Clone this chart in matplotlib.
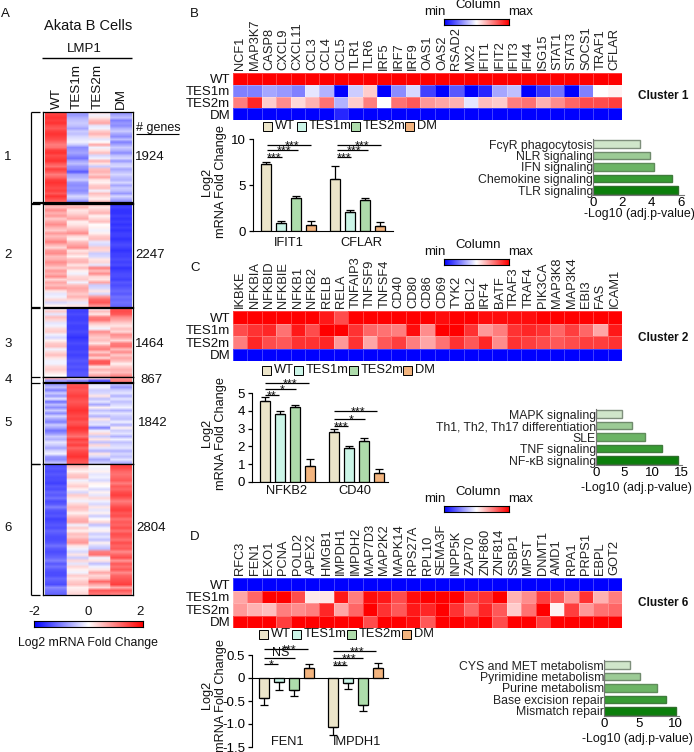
import numpy as np
import matplotlib
matplotlib.use('Agg')
import matplotlib.pyplot as plt
from matplotlib.patches import Rectangle

plt.rcParams['font.family'] = ['Liberation Sans', 'DejaVu Sans']
plt.rcParams['font.size'] = 9

W, H = 694, 752
groups = ['WT', 'TES1m', 'TES2m', 'DM']
bar_colors = ['#ece5c9', '#cbf5e7', '#aedcab', '#f3b47e']
green_colors = ['#d0e6ca', '#9ccb96', '#6db466', '#379b33', '#0b7f0b']
green_edges = ['#7f8f7c', '#6f8a6c', '#5f8c5a', '#3f7c3c', '#2f6f2c']

# ---- panel A (log2 fold change)
c1_wt = [1.4, 1.5, 1.6, 1.5, 1.6, 1.4, 1.3, 1.5, 1.6, 1.5,
         1.4, 1.2, 1.0, 1.1, 1.5, 1.6, 1.4, 1.5, 1.6, 1.3,
         1.1, 1.5, 1.3, 1.0, 1.2, 1.5, 1.6, 1.5, 1.4, 1.5,
         1.3, 1.6, 1.4, 1.2]
c1_tes1 = [-.7, -.8, -.6, -.5, -.4, -.5, -.7, -.4, -.5, -.3,
           -.2, -.1, -.4, -.9, -.8, -.7, -.9, -1.1, -.7, -.5,
           -.8, -.9, -1.3, -.7, -.6, -.4, -.8, -.9, -.8, -.9,
           -.7, -.3, -.5, -1.0]
c1_tes2 = [.3, -.1, .2, .5, .7, -.2, -.1, .4, .6, .3,
           -.2, 0, .7, -.1, .2, .5, -.3, -.1, .6, .2,
           -.4, .5, .6, .4, .7, .2, .1, .4, .5, -.1,
           .5, .3, .1, .5]
c1_dm = [-.9, -.7, -.5, -1.0, -.8, -.9, -.6, -.4, -.7, -.9,
         -.5, -1.0, -.7, -.4, -.6, -.9, -.5, -.3, -.8, -.4,
         -.3, -.7, -.5, -.3, -.5, -.6, -.3, -.7, -.4, -.5,
         -.8, -.3, -.6, -.9]

c2_wt = [.7, .5, .9, .6, .8, .4, .7, .9, .6, .4,
         .8, .5, .7, 1.0, .6, .3, .8, .9, .5, .6,
         .9, .7, .4, .8, .6, .9, .3, .7, .5, .8,
         .2, -.2, -.1, .3, -.3, .1]
c2_tes1 = [.4, .6, .2, .3, .5, .7, .1, .2, .4, .6,
           .9, .3, .1, .5, .7, .9, .2, .4, .1, .5,
           .6, .2, .5, .1, -.1, .3, .4, -.1, .5, .7,
           .6, .4, .6, .3, -.2, .2]
c2_tes2 = [.5, .2, .4, .6, .1, .3, .5, 0, .1, -.1,
           .1, .4, .5, -.2, -.3, .4, .3, -.4, -.3, .2,
           .3, -.2, 1.0, .5, .9, .3, .2, .7, -.4, -.3,
           .2, -.3, .8, 1.2, 1.3, .9]
c2_dm = [-1.6, -1.5, -1.6, -1.6, -1.5, -1.6, -1.5, -1.6, -1.5, -1.6,
         -1.5, -1.5, -1.6, -1.5, -1.4, -1.5, -1.6, -1.5, -1.5, -1.4,
         -1.5, -1.4, -1.6, -1.5, -1.4, -1.4, -1.5, -1.3, -1.4, -1.3,
         -1.2, -1.3, -1.1, -1.2, -1.1, -1.2]

c3_wt = [-.1, .4, -.2, .5, .3, -.2, -.1, .3, .4, -.1,
         -.3, .1, .4, .5, -.1, .3, .5, .2, -.1, -.1,
         .3, .4, .2, 0]
c3_tes1 = [-1.4, -1.5, -1.4, -1.5, -1.5, -1.4, -1.5, -1.5, -1.4, -1.5,
           -1.6, -1.5, -1.4, -1.5, -1.5, -1.4, -1.5, -1.4, -1.3, -1.4,
           -1.3, -1.4, -1.3, -1.3]
c3_tes2 = [-.1, .5, .2, 1.0, 1.1, .5, .2, -.1, .9, .6,
           .4, .5, .2, .8, 1.0, .4, .9, .3, 1.3, 1.3,
           .2, .6, .3, .7]
c3_dm = [1.3, 1.4, 1.3, .9, .7, .4, .2, .5, .3, .9,
         .7, .3, 1.0, 1.1, .5, .9, .4, .7, .5, .1,
         .4, .6, .5, .9]

c4_wt = [.6, -.8]
c4_tes1 = [.2, -1.0]
c4_tes2 = [.3, -1.4]
c4_dm = [.8, 1.0]

c5_wt = [-.8, -.5, -1.0, -.4, -.8, -.2, -1.1, -.5, -.9, -.4,
         -.9, -.3, -.7, -1.0, -.4, -.7, -1.1, -.8, -.4, -.6,
         -.2, -.4, -.7, -.3, -.1, -.8, -.9, -.5]
c5_tes1 = [1.3, 1.4, 1.3, 1.4, 1.5, 1.4, 1.3, 1.4, 1.5, 1.6,
           1.5, 1.4, 1.5, 1.3, 1.4, 1.6, 1.5, 1.3, 1.1, 1.5,
           1.3, 1.5, 1.2, 1.4, 1.5, 1.6, 1.4, 1.3]
c5_tes2 = [-.2, -.1, -.4, -.3, .2, -.5, -.2, -.7, .1, -.5,
           -.2, -.6, .2, -.3, -.2, -1.0, -.1, .3, -.4, .2,
           -.5, .3, -.2, -.6, .2, -.3, -.7, -.4]
c5_dm = [-.5, -.8, -.4, -.2, -.6, -.2, -.5, -.3, -.1, -.6,
         -.2, -.4, -.5, -.1, -.6, .1, -.4, -.2, -.6, -.1,
         -.5, -.3, -.2, -.6, -.3, -.5, -.2, -.6]

c6_wt = [-1.4, -1.3, -1.4, -1.3, -1.4, -1.4, -1.5, -1.3, -1.4, -1.2,
         -1.3, -1.1, -1.4, -1.3, -1.0, -1.3, -1.4, -1.3, -1.5, -1.4,
         -1.3, -1.4, -1.2, -1.3, -1.4, -1.4, -1.3, -1.1, -1.3, -1.4,
         -1.3, -1.2, -1.0, -1.3, -1.1, -1.3, -1.4, -1.4, -1.2, -1.3,
         -1.4, -.9, -1.1, -1.2]
c6_tes1 = [.6, .3, .1, .4, .5, -.1, .2, .4, .1, -.3,
           .4, .2, -.1, .3, .5, .4, .1, .4, .6, .7,
           -.1, .4, .1, .5, .4, .7, .8, .2, -.1, -.3,
           .2, -.4, .3, -.2, .3, .1, -.1, .4, .2, .4,
           .5, .1, .2, .3]
c6_tes2 = [.0, -.1, .1, -.2, -.1, -.3, .1, 0, -.3, .1,
           -.2, .3, -.1, -.3, .2, -.2, .1, -.4, 0, .3,
           -.5, -.1, .1, -.4, -.2, -.5, .1, -.3, -.5, 1.0,
           1.1, -.1, .2, -.5, -.1, .2, .7, .3, .5, 1.2,
           .7, .3, 1.3, 1.1]
c6_dm = [1.5, 1.4, 1.2, 1.1, 1.2, 1.3, 1.0, 1.3, 1.2, 1.4,
         1.5, 1.3, 1.0, 1.2, 1.4, 1.5, 1.3, 1.4, 1.1, 1.3,
         1.2, 1.4, 1.1, 1.4, 1.3, 1.1, 1.4, 1.2, 1.3, .9,
         1.2, 1.4, .8, 1.3, 1.1, 1.3, .9, 1.2, 1.3, 1.4,
         1.5, .7, 1.3, 1.0]

clusters = [(c1_wt, c1_tes1, c1_tes2, c1_dm), (c2_wt, c2_tes1, c2_tes2, c2_dm),
            (c3_wt, c3_tes1, c3_tes2, c3_dm), (c4_wt, c4_tes1, c4_tes2, c4_dm),
            (c5_wt, c5_tes1, c5_tes2, c5_dm), (c6_wt, c6_tes1, c6_tes2, c6_dm)]
cluster_names = ['1', '2', '3', '4', '5', '6']
cluster_genes = ['1924', '2247', '1464', '867', '1842', '2804']

# ---- panel B
genes_b = ['NCF1', 'MAP3K7', 'CASP8', 'CXCL9', 'CXCL11', 'CCL3', 'CCL4', 'CCL5', 'TLR1',
           'TLR6', 'IRF5', 'IRF7', 'IRF9', 'OAS1', 'OAS2', 'RSAD2', 'MX2', 'IFIT1', 'IFIT2',
           'IFIT3', 'IFI44', 'ISG15', 'STAT1', 'STAT3', 'SOCS1', 'TRAF1', 'CFLAR']
b_wt = [1] * 27
b_tes1 = [-.5, -.5, -.35, -.4, -.5, -.1, -.3, -1, -.2, .2, -1, -.45, -.15, -.75, -1, -.65,
          -1, -.85, -.35, -.25, -1, -.8, -.55, -1, -.5, 0, .05]
b_tes2 = [.5, .85, .2, .45, .15, .3, .55, -.3, .2, .5, 0, .55, .65, .4, .35, .3,
          -.1, .25, .2, .5, .55, .3, .45, .6, .7, .7, .75]
b_dm = [-1, -1, -1, -1, -1, -1, -1, -.85, -1, -1, -1, -1, -1, -1, -1, -1,
        -1, -1, -1, -1, -1, -1, -1, -1, -1, -1, -1]
bar_b_names = ['IFIT1', 'CFLAR']
bar_b_vals = [[7.3, .9, 3.6, .7], [5.7, 2.1, 3.4, .55]]
bar_b_errs = [[.2, .2, .2, .4], [1.4, .2, .2, .45]]
path_b = ['FcγR phagocytosis', 'NLR signaling', 'IFN signaling', 'Chemokine signaling', 'TLR signaling']
path_b_vals = [3.2, 3.9, 4.15, 5.35, 5.8]

# ---- panel C
genes_c = ['IKBKE', 'NFKBIA', 'NFKBID', 'NFKBIE', 'NFKB1', 'NFKB2', 'RELB', 'RELA', 'TNFAIP3',
           'TNFSF9', 'TNFSF4', 'CD40', 'CD80', 'CD86', 'CD69', 'TYK2', 'BCL2', 'IRF4', 'BATF',
           'TRAF3', 'TRAF4', 'PIK3CA', 'MAP3K8', 'MAP3K4', 'EBI3', 'FAS', 'ICAM1']
c_wt = [1, 1, 1, 1, 1, 1, .9, .7, 1, 1, 1, 1, 1, 1, .95, 1, 1, .95, .95, .95, .95, 1, 1, 1, 1, 1, 1]
c_tes1 = [.7, .8, .85, .55, .9, .7, 1, 1, .8, .6, .55, .5, .95, .45, 1, 1, .8, .4, .5,
          .8, .85, .8, .6, .75, .6, .35, .9]
c_tes2 = [.5, .85, .7, .65, .8, .8, .85, .4, .8, .35, .65, .75, .5, .35, .55, .8, .65, .85, .45,
          .8, .75, .7, .65, .7, .75, .75, .8]
c_dm = [-1] * 27
bar_c_names = ['NFKB2', 'CD40']
bar_c_vals = [[4.55, 3.8, 4.2, .9], [2.8, 1.9, 2.3, .5]]
bar_c_errs = [[.25, .2, .1, .4], [.15, .15, .15, .22]]
path_c = ['MAPK signaling', 'Th1, Th2, Th17 differentiation', 'SLE', 'TNF signaling', 'NF-κB signaling']
path_c_vals = [4.6, 6.3, 8.7, 11.7, 14.5]

# ---- panel D
genes_d = ['RFC3', 'FEN1', 'EXO1', 'PCNA', 'POLD2', 'APEX2', 'HMGB1', 'IMPDH1', 'IMPDH2',
           'MAP7D3', 'MAP2K2', 'MAPK14', 'RPS27A', 'RPL10', 'SEMA3F', 'INPP5K', 'ZAP70', 'ZNF860',
           'ZNF814', 'SSBP1', 'MPST', 'DNMT1', 'AMD1', 'RPA1', 'PRPS1', 'EBPL', 'GOT2']
d_wt = [-1] * 27
d_tes1 = [.35, .6, 1, 1, .7, .08, .1, .9, .5, .95, .9, .7, .95, 1, 1, 1, .75, .8, 1,
          .3, .45, .75, .65, .4, .8, .3, .5]
d_tes2 = [.4, .3, .25, .5, .45, .5, .85, .35, .6, 1, .8, .65, .9, .85, 1, .8, .6, .85, .65,
          .2, .55, 1, .05, .75, .4, .55, .6]
d_dm = [1, 1, 1, .75, 1, 1, 1, 1, 1, .7, 1, 1, .95, .65, 1, 1, .95, 1, .7,
        1, 1, .75, 1, 1, 1, 1, 1]
bar_d_names = ['FEN1', 'IMPDH1']
bar_d_vals = [[-.43, -.08, -.26, .22], [-1.07, -.1, -.58, .22]]
bar_d_errs = [[.15, .17, .13, .09], [.17, .13, .13, .11]]
path_d = ['CYS and MET metabolism', 'Pyrimidine metabolism', 'Purine metabolism',
          'Base excision repair', 'Mismatch repair']
path_d_vals = [3.6, 5.0, 7.5, 8.8, 10.2]

fig = plt.figure(figsize=(W / 100, H / 100), dpi=100)


def px_ax(l, t, r, b):
    # axes placed by pixel box of the reference
    return fig.add_axes([l / W, 1 - b / H, (r - l) / W, (b - t) / H])


over = fig.add_axes([0, 0, 1, 1], zorder=10)
over.set_xlim(0, W)
over.set_ylim(H, 0)
over.axis('off')
over.patch.set_alpha(0)


def txt(x, y, s, ha='left', va='center', size=9, **kw):
    over.text(x, y, s, ha=ha, va=va, fontsize=size, color='#111111', **kw)


def line(xs, ys, lw=1.0, color='black'):
    over.plot(xs, ys, color=color, lw=lw, solid_capstyle='butt')


# ---------- panel A
txt(1, 14, 'A', size=9.5)
txt(44, 26, 'Akata B Cells', size=10.5)
txt(84, 49, 'LMP1', ha='center', size=9.5)
line([42, 132], [58, 58], lw=1)
for x, g in zip([57, 77, 98, 121], groups):
    txt(x, 109, g, ha='center', va='bottom', rotation=90, size=9.7)

tops = [112, 204, 308, 377, 383, 464]
bots = [203, 307, 377, 382, 464, 595]
y_name = [157, 255, 344, 380, 423, 528]
x_gene = [135, 135, 135, 140, 138, 136]
for i in range(6):
    ax = px_ax(43, tops[i], 133, bots[i])
    vals = np.array(clusters[i]).T
    ax.imshow(np.repeat(vals, 20, axis=1), cmap='bwr', vmin=-2, vmax=2, aspect='auto',
              interpolation='bilinear', extent=[0, 4, len(vals), 0])
    ax.set_xlim(-.09, 4.09)
    ax.set_xticks([])
    ax.set_yticks([])
    for s in ax.spines.values():
        s.set_linewidth(0.9)
    # bracket on the left
    if i != 3:
        line([40, 31], [tops[i], tops[i]], lw=0.9)
        line([40, 31], [bots[i], bots[i]], lw=0.9)
    txt(8, y_name[i], cluster_names[i], ha='center', size=9.5)
    txt(x_gene[i], y_name[i], cluster_genes[i], size=9.5)
line([33, 133], [203, 203], lw=1.6)
line([31, 31], [112, 595], lw=0.9)
txt(136, 128, '# genes', size=9)
line([136, 179], [133.5, 133.5], lw=0.8)

cb = px_ax(34, 621, 143, 627)
cb.imshow(np.linspace(-1, 1, 256)[None, :], cmap='bwr', aspect='auto')
cb.set_xticks([])
cb.set_yticks([])
txt(34, 612, '-2', ha='center', size=9.5)
txt(88, 612, '0', ha='center', size=9.5)
txt(140, 612, '2', ha='center', size=9.5)
txt(88, 643, 'Log2 mRNA Fold Change', ha='center', size=8.8)


# ---------- heatmaps B, C, D
def gene_heatmap(top, bottom, genes, rows, cluster, cluster_y, letter, letter_y, bar_top):
    ax = px_ax(233, top, 622, bottom)
    ax.pcolormesh(np.array(rows, dtype=float), cmap='bwr', vmin=-1, vmax=1,
                  edgecolors=(1, 1, 1, .25), linewidth=0.4)
    ax.invert_yaxis()
    ax.xaxis.tick_top()
    ax.set_xticks(np.arange(len(genes)) + .5, genes, rotation=90, fontsize=9.3, color='#222222')
    ax.set_yticks(np.arange(4) + .5, groups, fontsize=9.5, color='#111111')
    ax.tick_params(length=0, pad=2)
    for s in ax.spines.values():
        s.set_visible(False)
    txt(638, cluster_y, cluster, fontweight='bold', size=8.5)
    txt(190, letter_y, letter, size=9.5)
    # min / max key
    key = px_ax(444, bar_top, 509, bar_top + 6)
    key.imshow(np.linspace(-1, 1, 256)[None, :], cmap='bwr', aspect='auto')
    key.set_xticks([])
    key.set_yticks([])
    txt(435, bar_top - 7, 'min', ha='center', size=9.5)
    txt(478, bar_top - 14, 'Column', ha='center', size=9.5)
    txt(521, bar_top - 7, 'max', ha='center', size=9.5)


gene_heatmap(73, 120, genes_b, [b_wt, b_tes1, b_tes2, b_dm], 'Cluster 1', 96, 'B', 14, 19)
gene_heatmap(311, 361, genes_c, [c_wt, c_tes1, c_tes2, c_dm], 'Cluster 2', 338, 'C', 268, 259)
gene_heatmap(578, 628, genes_d, [d_wt, d_tes1, d_tes2, d_dm], 'Cluster 6', 603, 'D', 537, 506)


# ---------- legends
def key_row(y, xs):
    for x, g, col in zip(xs, groups, bar_colors):
        over.add_patch(Rectangle((x, y - 4.5), 9, 9, fc=col, ec='black', lw=0.7))
        txt(x + 12, y, g, size=9.3)


key_row(126, [263, 297, 351, 405])
key_row(370, [262, 294, 349, 403])
key_row(634, [259, 292, 347, 402])


# ---------- bar plots
def fold_bars(box, ylim, yticks, yticklabels, names, vals, errs, ypos, name_y):
    l, t, r, b = box
    ax = px_ax(l, t, r, b)
    pitch = 15.0
    starts = [(ypos[0] - l) / pitch, (ypos[1] - l) / pitch]
    for start, v, e in zip(starts, vals, errs):
        for i in range(4):
            sign = 1 if v[i] >= 0 else -1
            ax.bar(start + i, v[i], width=.68, color=bar_colors[i], edgecolor='black', lw=0.9)
            low = [[e[i]], [0]] if sign < 0 else [[0], [e[i]]]
            ax.errorbar(start + i, v[i], yerr=low, color='black', capsize=2.8, lw=0.9, capthick=0.9)
    ax.set_xlim(0, (r - l) / pitch)
    ax.set_ylim(*ylim)
    ax.set_xticks([])
    ax.set_yticks(yticks, yticklabels, fontsize=9.5)
    ax.tick_params(length=3, width=0.9, pad=2)
    ax.spines['top'].set_visible(False)
    ax.spines['right'].set_visible(False)
    ax.patch.set_alpha(0)
    for n, s in zip(name_y[0], names):
        txt(n, name_y[1], s, ha='center', size=9.3)
    return ax


fold_bars((253, 139, 393, 231), (0, 10), [0, 5, 10], ['0', '5', '10'], bar_b_names,
          bar_b_vals, bar_b_errs, (266, 335), ((289, 361), 243))
fold_bars((252, 393, 388, 482), (0, 5), [0, 1, 2, 3, 4, 5], ['0', '1', '2', '3', '4', '5'], bar_c_names,
          bar_c_vals, bar_c_errs, (265, 334), ((287, 355), 491))
ax_d = fold_bars((252, 655, 388, 747), (-1.5, .5), [-1.5, -1, -.5, 0, .5], ['-1.5', '-1.0', '-0.5', '0', '0.5'], bar_d_names,
                 bar_d_vals, bar_d_errs, (264, 333), ((287, 357), 742))
ax_d.spines['bottom'].set_position(('data', 0))

for y in [182, 433, 695]:
    txt(207, y, 'Log2', ha='center', rotation=90, size=9.2)
    txt(221, y, 'mRNA Fold Change', ha='center', rotation=90, size=9.2)


# significance bars
def sig(x0, rows):
    for (x1, y, label), shift in zip(rows, [3, 1.5, 0]):
        line([x0, x1], [y, y], lw=0.9)
        if label == 'NS':
            txt((x0 + x1) / 2 + 1, y - 5, label, ha='center', size=9)
        else:
            # the star glyph sits high in its line, so place it by the baseline
            txt((x0 + x1) / 2 + shift, y + 4.5, label, ha='center', va='baseline', size=9)


sig(267, [(311, 145, '***'), (298, 150, '***'), (282, 157, '***')])
sig(337, [(381, 145, '***'), (368, 150, '***'), (351, 157, '***')])
sig(265, [(309, 383, '***'), (296, 389, '*'), (279, 395, '**')])
sig(334, [(377, 411, '***'), (365, 419, '*'), (348, 426, '***')])
sig(264, [(308, 649, '***'), (295, 658, 'NS'), (278, 664, '*')])
sig(333, [(376, 651, '***'), (363, 658, '***'), (347, 665, '***')])


# ---------- pathway bars
def pathway(x0, x_per_unit, first_y, xmax, xticks, names, vals, label_x, label_y):
    pitch = 11.5
    t, b = first_y - .45 * pitch, first_y + 4.45 * pitch
    ax = px_ax(x0, t, x0 + xmax * x_per_unit, b)
    ax.barh(range(5), vals, height=.62, color=green_colors, edgecolor=green_edges, lw=1)
    ax.set_xlim(0, xmax)
    ax.set_ylim(4.45, -.45)
    ax.set_xticks(xticks, [str(v) for v in xticks], fontsize=9.5)
    ax.set_yticks(range(5), names, fontsize=8.8, color='#222222')
    ax.tick_params(axis='y', length=0, pad=0)
    ax.tick_params(axis='x', length=0, pad=1)
    ax.spines['top'].set_visible(False)
    ax.spines['right'].set_visible(False)
    ax.spines['left'].set_color('#777777')
    ax.spines['bottom'].set_color('#777777')
    ax.patch.set_alpha(0)
    txt(label_x, label_y, '-Log10 (adj.p-value)', ha='center', size=8.9)


pathway(593, 14.7, 144, 6.2, [0, 2, 4, 6], path_b, path_b_vals, 639, 214)
pathway(596, 5.67, 414, 15.2, [0, 5, 10, 15], path_c, path_c_vals, 636, 488)
pathway(604, 7.1, 665, 10.5, [0, 5, 10], path_d, path_d_vals, 637, 739)

fig.savefig('out.png', dpi=100)
